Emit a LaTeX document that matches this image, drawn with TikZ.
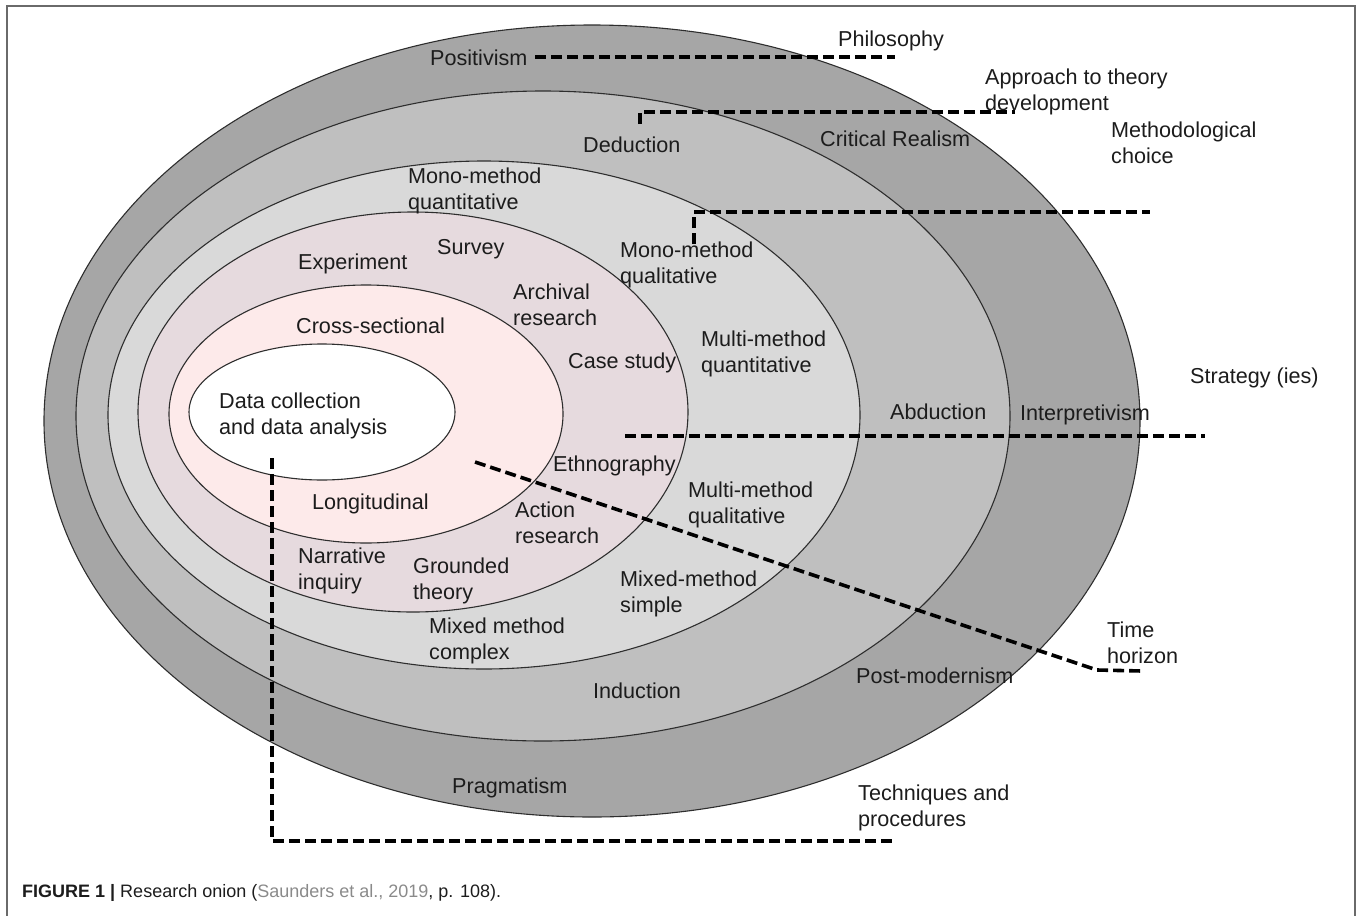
\documentclass[tikz,border=0pt]{standalone}
\usepackage{fontspec}
\setmainfont{Liberation Sans}
\definecolor{rA}{HTML}{A6A6A6}
\definecolor{rB}{HTML}{BFBFBF}
\definecolor{rC}{HTML}{D9D9D9}
\definecolor{rD}{HTML}{E6DADE}
\definecolor{rE}{HTML}{FDEAEA}
\definecolor{ringline}{HTML}{2E2E2E}
\definecolor{txt}{HTML}{1C1C1C}
\definecolor{capgray}{HTML}{8A8A8A}
\definecolor{framegray}{HTML}{6A6A6A}
\begin{document}
\begin{tikzpicture}[x=1pt,y=-1pt,
  lbl/.style={anchor=west,align=left,inner sep=0pt,yshift=-2pt,font=\fontsize{21.6}{26.5}\selectfont,text=txt},
  lead/.style={line width=3.6pt,dash pattern=on 11pt off 5pt,black},
  ring/.style={draw=ringline,line width=1.1pt}]
\useasboundingbox (0,0) rectangle (1358,916);
% frame
\draw[framegray,line width=1.6pt] (7,930) -- (7,6) -- (1355,6) -- (1355,930);
% onion rings
\draw[ring,fill=rA] (592,421) ellipse [x radius=548pt, y radius=396pt];
\draw[ring,fill=rB] (543,416) ellipse [x radius=467pt, y radius=325pt];
\draw[ring,fill=rC] (484,415) ellipse [x radius=376pt, y radius=254pt];
\draw[ring,fill=rD] (413,412) ellipse [x radius=275pt, y radius=200pt];
\draw[ring,fill=rE] (366,414) ellipse [x radius=197pt, y radius=129pt];
\draw[ring,fill=white] (322,412) ellipse [x radius=133pt, y radius=68pt];
% leader coordinates
\coordinate (p1) at (535,57);  \coordinate (p2) at (895,57);
\coordinate (d1) at (640,124); \coordinate (d2) at (640,112); \coordinate (d3) at (1015,112);
\coordinate (m1) at (694,244); \coordinate (m2) at (694,212); \coordinate (m3) at (1150,212);
\coordinate (s1) at (625,436); \coordinate (s2) at (1205,436);
\coordinate (t1) at (475,462); \coordinate (t2) at (1097,670); \coordinate (t3) at (1142,671);
\coordinate (q1) at (272,458); \coordinate (q2) at (272,841); \coordinate (q3) at (896,841);
% leaders
\draw[lead] (p1) -- (p2);
\draw[lead] (d1) -- (d2) -- (d3);
\draw[lead] (m1) -- (m2) -- (m3);
\draw[lead] (s1) -- (s2);
\draw[lead] (t1) -- (t2) -- (t3);
\draw[lead] (q1) -- (q2) -- (q3);
% labels
\node[lbl] (philosophy) at (838,39) {Philosophy};
\node[lbl] (positivism) at (430,56) {Positivism};
\node[lbl] (approach) at (985,90) {Approach to theory\\development};
\node[lbl] (methchoice) at (1111,141) {Methodological\\choice};
\node[lbl] (critreal) at (820,137) {Critical Realism};
\node[lbl] (deduction) at (583,143) {Deduction};
\node[lbl] (monoquant) at (408,189) {Mono-method\\quantitative};
\node[lbl] (experiment) at (298,262) {Experiment};
\node[lbl] (survey) at (437,247) {Survey};
\node[lbl] (monoqual) at (620,263) {Mono-method\\qualitative};
\node[lbl] (archival) at (513,303) {Archival\\research};
\node[lbl] (crosssec) at (296,324) {Cross-sectional};
\node[lbl] (multiquant) at (701,352) {Multi-method\\quantitative};
\node[lbl] (casestudy) at (568,361) {Case study};
\node[lbl] (strategy) at (1190,376) {Strategy (ies)};
\node[lbl] (datacoll) at (219,414) {Data collection\\and data analysis};
\node[lbl] (abduction) at (890,410) {Abduction};
\node[lbl] (interpret) at (1020,413) {Interpretivism};
\node[lbl] (ethno) at (553,464) {Ethnography};
\node[lbl] (multiqual) at (688,503) {Multi-method\\qualitative};
\node[lbl] (longit) at (312,502) {Longitudinal};
\node[lbl] (action) at (515,521) {Action\\research};
\node[lbl] (narrative) at (298,569) {Narrative\\inquiry};
\node[lbl] (grounded) at (413,579) {Grounded\\theory};
\node[lbl] (mixsimple) at (620,592) {Mixed-method\\simple};
\node[lbl] (mixcomplex) at (429,639) {Mixed method\\complex};
\node[lbl] (timehor) at (1107,641) {Time\\horizon};
\node[lbl] (postmod) at (856,674) {Post-modernism};
\node[lbl] (induction) at (593,689) {Induction};
\node[lbl] (pragmatism) at (452,786) {Pragmatism};
\node[lbl] (techniques) at (858,806) {Techniques and\\procedures};
% caption
\node[anchor=base west,inner sep=0pt,font=\fontsize{18}{22}\selectfont,text=txt] (caption) at (22,897)
  {\textbf{FIGURE 1 |} Research onion (\textcolor{capgray}{Saunders et al., 2019}, p. 108).};
\end{tikzpicture}
\end{document}
